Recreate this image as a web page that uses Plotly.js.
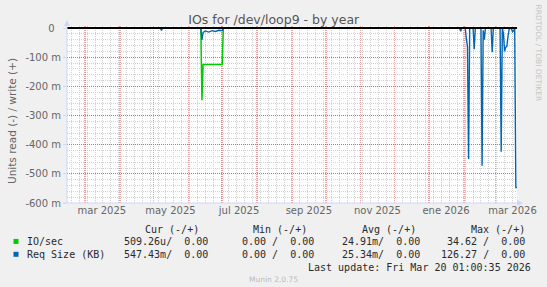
<!DOCTYPE html>
<html><head><meta charset="utf-8">
<script src="https://cdn.plot.ly/plotly-3.0.1.min.js"></script>
<style>html,body{margin:0;padding:0;background:#f0f0f0;} #chart{width:547px;height:287px;}</style>
</head><body><div id="chart"></div>
<script>
// ---- data (read values shown as negative; write values are all 0) ----
const ioDates = ['2025-02-13','2025-06-12','2025-06-13','2025-06-14','2025-07-01','2025-07-02','2026-03-20'];
const ioRead  = [0, 0, -0.248, -0.125, -0.125, 0, 0];

const reqDates = ['2025-02-13','2025-05-07','2025-05-08','2025-05-09',
  '2025-06-12','2025-06-13','2025-06-14','2025-06-16','2025-06-19','2025-06-22','2025-06-25','2025-06-28','2025-07-01','2025-07-02',
  '2026-01-28','2026-01-29','2026-01-30',
  '2026-02-02','2026-02-03','2026-02-04','2026-02-05','2026-02-06',
  '2026-02-09','2026-02-10','2026-02-11',
  '2026-02-16','2026-02-17','2026-02-18','2026-02-19','2026-02-20',
  '2026-02-25','2026-02-26','2026-02-27',
  '2026-03-05','2026-03-06','2026-03-07','2026-03-08','2026-03-09','2026-03-10','2026-03-11','2026-03-12','2026-03-13','2026-03-14',
  '2026-03-15','2026-03-16','2026-03-17','2026-03-18','2026-03-19','2026-03-20'];
const reqRead = [0, 0, -0.008, 0,
  0, -0.041, -0.015, -0.010, -0.014, -0.009, -0.012, -0.008, -0.009, 0,
  0, -0.011, 0,
  0, -0.035, -0.064, -0.449, 0,
  0, -0.073, 0,
  0, -0.472, -0.008, -0.040, 0,
  0, -0.083, 0,
  0, -0.424, 0, -0.020, -0.080, -0.066, -0.064, -0.030, -0.006, 0,
  0, -0.013, -0.010, 0, -0.547, -0.547];

const xTickDates  = ['2025-03-16','2025-05-16','2025-07-16','2025-09-16','2025-11-16','2026-01-16','2026-03-16'];
const xTickLabels = ['mar 2025','may 2025','jul 2025','sep 2025','nov 2025','ene 2026','mar 2026'];
const yTickVals   = [0, -0.1, -0.2, -0.3, -0.4, -0.5, -0.6];
const yTickLabels = ['0\u00a0\u00a0', '-100 m', '-200 m', '-300 m', '-400 m', '-500 m', '-600 m'];

const seriesNames  = ['IO/sec', 'Req Size (KB)'];
const seriesColors = ['#00CC00', '#0066B3'];
const colHeaders = ['Cur (-/+)', 'Min (-/+)', 'Avg (-/+)', 'Max (-/+)'];
const curRead = ['509.26u', '547.43m'], curWrite = ['0.00', '0.00'];
const minRead = ['0.00', '0.00'],       minWrite = ['0.00', '0.00'];
const avgRead = ['24.91m', '25.34m'],   avgWrite = ['0.00', '0.00'];
const maxRead = ['34.62', '126.27'],    maxWrite = ['0.00', '0.00'];
const lastUpdate = 'Last update: Fri Mar 20 01:00:35 2026';
const titleText = 'IOs for /dev/loop9 - by year';
const yTitleText = 'Units read (-) / write (+)';
const sideText = 'RRDTOOL / TOBI OETIKER';
const footerText = 'Munin 2.0.75';
const xStart = '2025-02-13 01:00', xEnd = '2026-03-20 01:00';

// ---- layout geometry ----
const W = 547, H = 287, L = 67, R = 517, T = 26, B = 203;
const PX = x => (x - L) / (R - L);
const PY = y => (B - y) / (B - T);
const nb = s => s.replace(/ /g, '\u00a0');
const fmt = (r, w) => r + (/[a-zA-Z]$/.test(r) ? '' : ' ') + '/' + w.padStart(6, ' ');

const FONT = 'DejaVu Sans, sans-serif';
const MONO = 'DejaVu Sans Mono, monospace';
const AX = '#CFD6F8';
const MGRID = 'rgba(222,60,60,0.7)';
const MGRIDX = 'rgba(225,70,70,0.5)';
const GRID = '#d2d2d2';

const traces = [
  {x: ioDates, y: ioRead, type: 'scatter', mode: 'lines', line: {color: seriesColors[0], width: 1.5}, hoverinfo: 'skip'},
  {x: reqDates, y: reqRead, type: 'scatter', mode: 'lines', line: {color: seriesColors[1], width: 1.4}, hoverinfo: 'skip'},
  {x: reqDates, y: reqRead, xaxis: 'x2', type: 'scatter', mode: 'lines', line: {width: 0}, opacity: 0, hoverinfo: 'skip'}
];

const ann = [];
function txt(text, x, y, xanchor, font, extra) {
  ann.push(Object.assign({text: nb(text), x: PX(x), y: PY(y), xref: 'paper', yref: 'paper',
    xanchor: xanchor, yanchor: 'middle', showarrow: false, font: font}, extra || {}));
}
const legFont = {family: MONO, size: 10, color: '#2a2a2a'};
const hdrRight = [199.6, 308.1, 417, 526.2];
const valRight = [209.4, 315.4, 421.1, 526.2];
colHeaders.forEach((h, i) => txt(h, hdrRight[i] + 1, 229.2, 'right', legFont));
const rowsY = [241.4, 254.3];
const shapes = [];
seriesNames.forEach((n, i) => {
  txt(n, 25, rowsY[i], 'left', legFont);
  const cols = [fmt(curRead[i], curWrite[i]), fmt(minRead[i], minWrite[i]), fmt(avgRead[i], avgWrite[i]), fmt(maxRead[i], maxWrite[i])];
  cols.forEach((c, j) => txt(c, valRight[j] + 1, rowsY[i], 'right', legFont));
  shapes.push({type: 'rect', xref: 'paper', yref: 'paper', x0: PX(13.5), x1: PX(18.5), y0: PY(rowsY[i] + 2.5), y1: PY(rowsY[i] - 2.5),
    fillcolor: seriesColors[i], line: {width: 0}});
});
txt(lastUpdate, 533, 267.2, 'right', legFont);
txt(footerText, 273, 279.8, 'center', {family: FONT, size: 7.5, color: '#bbbbbb'});
txt(sideText, 538.5, 53, 'center', {family: FONT, size: 7.5, color: '#c4c4c4'}, {textangle: 90});
txt(yTitleText, 12, 121, 'center', {family: FONT, size: 10.5, color: '#666'}, {textangle: -90});

// axis arrows and extensions
shapes.push({type: 'line', xref: 'paper', yref: 'paper', x0: PX(67), x1: PX(67), y0: PY(203), y1: PY(22), line: {color: AX, width: 1}});
shapes.push({type: 'path', xref: 'paper', yref: 'paper', path: `M ${PX(64)},${PY(26)} L ${PX(70)},${PY(26)} L ${PX(67)},${PY(20)} Z`, fillcolor: AX, line: {color: AX, width: 0}});
shapes.push({type: 'line', xref: 'paper', yref: 'paper', x0: PX(63), x1: PX(521), y0: PY(203), y1: PY(203), line: {color: AX, width: 1}});
shapes.push({type: 'path', xref: 'paper', yref: 'paper', path: `M ${PX(517)},${PY(200)} L ${PX(517)},${PY(206)} L ${PX(523)},${PY(203)} Z`, fillcolor: AX, line: {color: AX, width: 0}});

const layout = {
  width: W, height: H,
  margin: {l: L, r: W - R, t: T, b: H - B, pad: 0},
  paper_bgcolor: '#f0f0f0', plot_bgcolor: '#ffffff',
  showlegend: false,
  title: {text: titleText, x: 273.8 / W, xref: 'container', xanchor: 'center', y: 1 - 19.5 / H, yref: 'container', yanchor: 'middle',
    font: {family: FONT, size: 12.5, color: '#555'}},
  xaxis: {type: 'date', range: [xStart, xEnd], tickmode: 'linear', tick0: '2025-02-01', dtick: 'M1',
    showticklabels: false, ticks: '', showgrid: true, gridcolor: MGRIDX, griddash: '1px,1px', gridwidth: 1.6,
    minor: {tick0: '2025-02-17', dtick: 7 * 86400000, showgrid: true, gridcolor: GRID, griddash: '1px,1px', gridwidth: 1},
    showline: false, zeroline: false, fixedrange: true},
  xaxis2: {type: 'date', range: [xStart, xEnd], overlaying: 'x', anchor: 'y', side: 'bottom',
    tickmode: 'array', tickvals: xTickDates, ticktext: xTickLabels, ticks: '', showgrid: false, zeroline: false, showline: false,
    tickfont: {family: FONT, size: 10, color: '#666'}, fixedrange: true},
  yaxis: {range: [-0.6, 0.00686], tickmode: 'array', tickvals: yTickVals, ticktext: yTickLabels, ticks: 'outside', ticklen: 3, tickcolor: AX,
    tickfont: {family: FONT, size: 10, color: '#666'},
    showgrid: true, gridcolor: MGRID, griddash: '1px,1px', gridwidth: 1,
    minor: {tick0: 0, dtick: 0.02, showgrid: true, gridcolor: GRID, griddash: '1px,1px', gridwidth: 1},
    zeroline: true, zerolinecolor: '#000000', zerolinewidth: 1.5, zerolinelayer: 'above traces',
    showline: false, fixedrange: true},
  annotations: ann,
  shapes: shapes
};

Plotly.newPlot('chart', traces, layout, {displayModeBar: false, staticPlot: true});
</script></body></html>
